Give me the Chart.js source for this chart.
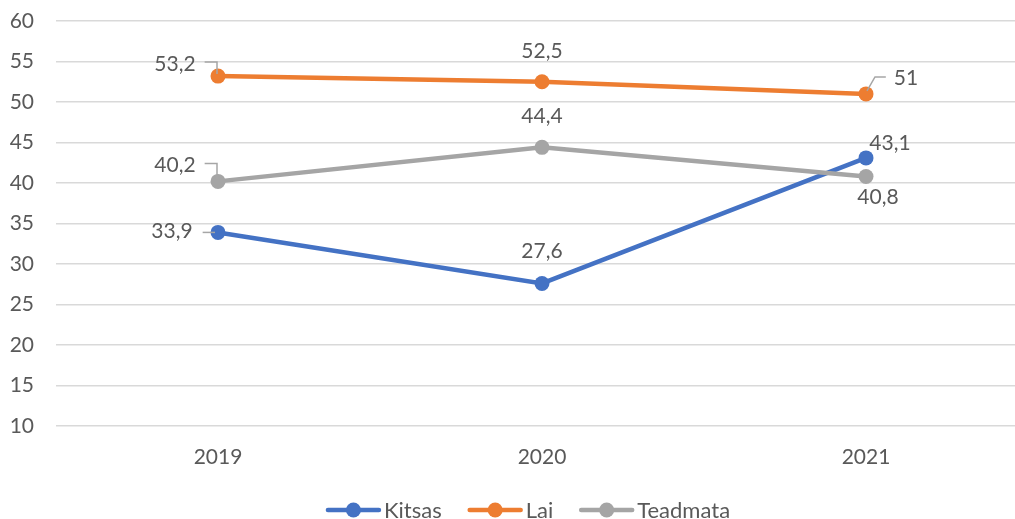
<!DOCTYPE html>
<html>
<head>
<meta charset="utf-8">
<script src="https://cdn.jsdelivr.net/npm/chart.js@4.4.1/dist/chart.umd.min.js"></script>
<style>
  html, body { margin: 0; padding: 0; background: #fff; overflow: hidden; }
  #wrap { position: relative; width: 1056px; height: 519px; }
</style>
</head>
<body>
<div id="wrap"><canvas id="chart"></canvas></div>
<script>
// Survey results by year
const categories = ['2019', '2020', '2021'];
const kitsas = [33.9, 27.6, 43.1];
const lai = [53.2, 52.5, 51];
const teadmata = [40.2, 44.4, 40.8];
const seriesNames = ['Kitsas', 'Lai', 'Teadmata'];
const yMin = 10, yMax = 60, yStep = 5;

const COLORS = ['#4472C4', '#ED7D31', '#A5A5A5'];
const TEXT = '#595959';
const FONT = 'Lato, "Open Sans", sans-serif';

// Placement of each value label relative to its point (dx, dy) and an optional leader line
const labelPlacement = [
  [{ dx: -46, dy: -1, leader: 'h' }, { dx: 0, dy: -32 }, { dx: 24, dy: -15 }],
  [{ dx: -43, dy: -12, leader: 'upLeft' }, { dx: 0, dy: -31 }, { dx: 40, dy: -16, leader: 'upRight' }],
  [{ dx: -43, dy: -16, leader: 'upLeft' }, { dx: 0, dy: -31 }, { dx: 12, dy: 21 }]
];

const fmt = v => String(v).replace('.', ',');

const valueLabels = {
  id: 'valueLabels',
  afterDatasetsDraw(chart) {
    const ctx = chart.ctx;
    ctx.save();
    ctx.font = '21px ' + FONT;
    ctx.textAlign = 'center';
    ctx.textBaseline = 'middle';
    chart.data.datasets.forEach((ds, di) => {
      const meta = chart.getDatasetMeta(di);
      meta.data.forEach((pt, i) => {
        const p = labelPlacement[di][i];
        const x = pt.x, y = pt.y;
        const tx = x + p.dx, ty = y + p.dy;
        const text = fmt(ds.data[i]);
        const w = ctx.measureText(text).width;
        ctx.strokeStyle = '#A6A6A6';
        ctx.lineWidth = 1.5;
        if (p.leader === 'h') {
          ctx.beginPath();
          ctx.moveTo(tx + w / 2 + 10, y);
          ctx.lineTo(x - 3, y);
          ctx.stroke();
        } else if (p.leader === 'upLeft') {
          const ly = ty - 2;
          ctx.beginPath();
          ctx.moveTo(tx + w / 2 + 9, ly);
          ctx.lineTo(x - 1, ly);
          ctx.lineTo(x - 1, y - 2);
          ctx.stroke();
        } else if (p.leader === 'upRight') {
          const ly = ty - 1;
          ctx.beginPath();
          ctx.moveTo(x + 1, y - 3);
          ctx.lineTo(x + 9, ly);
          ctx.lineTo(tx - w / 2 - 8, ly);
          ctx.stroke();
        }
        ctx.fillStyle = TEXT;
        ctx.fillText(text, tx, ty);
      });
    });
    ctx.restore();
  }
};

// Legend: line-with-marker swatch followed by series name, centred under the chart
const lineLegend = {
  id: 'lineLegend',
  afterDraw(chart) {
    const ctx = chart.ctx;
    ctx.save();
    ctx.font = '22px ' + FONT;
    ctx.textBaseline = 'middle';
    const swatch = 55, gapText = 3, gapItem = 26;
    const widths = seriesNames.map(n => swatch + gapText + ctx.measureText(n).width);
    const total = widths.reduce((a, b) => a + b, 0) + gapItem * (seriesNames.length - 1);
    let x = chart.width / 2 - total / 2;
    const y = 510;
    seriesNames.forEach((name, i) => {
      ctx.strokeStyle = COLORS[i];
      ctx.lineWidth = 4.5;
      ctx.lineCap = 'round';
      ctx.beginPath();
      ctx.moveTo(x + 2, y);
      ctx.lineTo(x + swatch - 2, y);
      ctx.stroke();
      ctx.fillStyle = COLORS[i];
      ctx.beginPath();
      ctx.arc(x + swatch / 2, y, 7.5, 0, Math.PI * 2);
      ctx.fill();
      ctx.fillStyle = TEXT;
      ctx.textAlign = 'left';
      ctx.fillText(name, x + swatch + gapText, y + 1);
      x += widths[i] + gapItem;
    });
    ctx.restore();
  }
};

const makeSet = (label, data, i) => ({
  label,
  data,
  borderColor: COLORS[i],
  backgroundColor: COLORS[i],
  pointBackgroundColor: COLORS[i],
  pointBorderColor: COLORS[i],
  borderWidth: 4.5,
  pointRadius: 7.5,
  pointBorderWidth: 0,
  pointHoverRadius: 7.5,
  tension: 0,
  order: 3 - i
});

new Chart(document.getElementById('chart'), {
  type: 'line',
  data: {
    labels: categories,
    datasets: [
      makeSet(seriesNames[0], kitsas, 0),
      makeSet(seriesNames[1], lai, 1),
      makeSet(seriesNames[2], teadmata, 2)
    ]
  },
  options: {
    responsive: true,
    maintainAspectRatio: false,
    animation: false,
    layout: { padding: { left: 0, right: 28, top: 21, bottom: 0 } },
    plugins: { legend: { display: false }, tooltip: { enabled: false } },
    scales: {
      x: {
        offset: true,
        grid: { display: false, drawTicks: false },
        border: { display: false },
        ticks: { color: TEXT, font: { family: FONT, size: 21 }, padding: 19 },
        afterFit: s => { s.height = 93; s.paddingLeft = 0; s.paddingRight = 0; }
      },
      y: {
        min: yMin,
        max: yMax,
        ticks: { stepSize: yStep, color: TEXT, font: { family: FONT, size: 21 }, padding: 22 },
        grid: { color: '#D9D9D9', lineWidth: 1.5, drawTicks: false },
        border: { display: false },
        afterFit: s => { s.width = 56; s.paddingTop = 0; s.paddingBottom = 0; }
      }
    }
  },
  plugins: [valueLabels, lineLegend]
});
</script>
</body>
</html>
